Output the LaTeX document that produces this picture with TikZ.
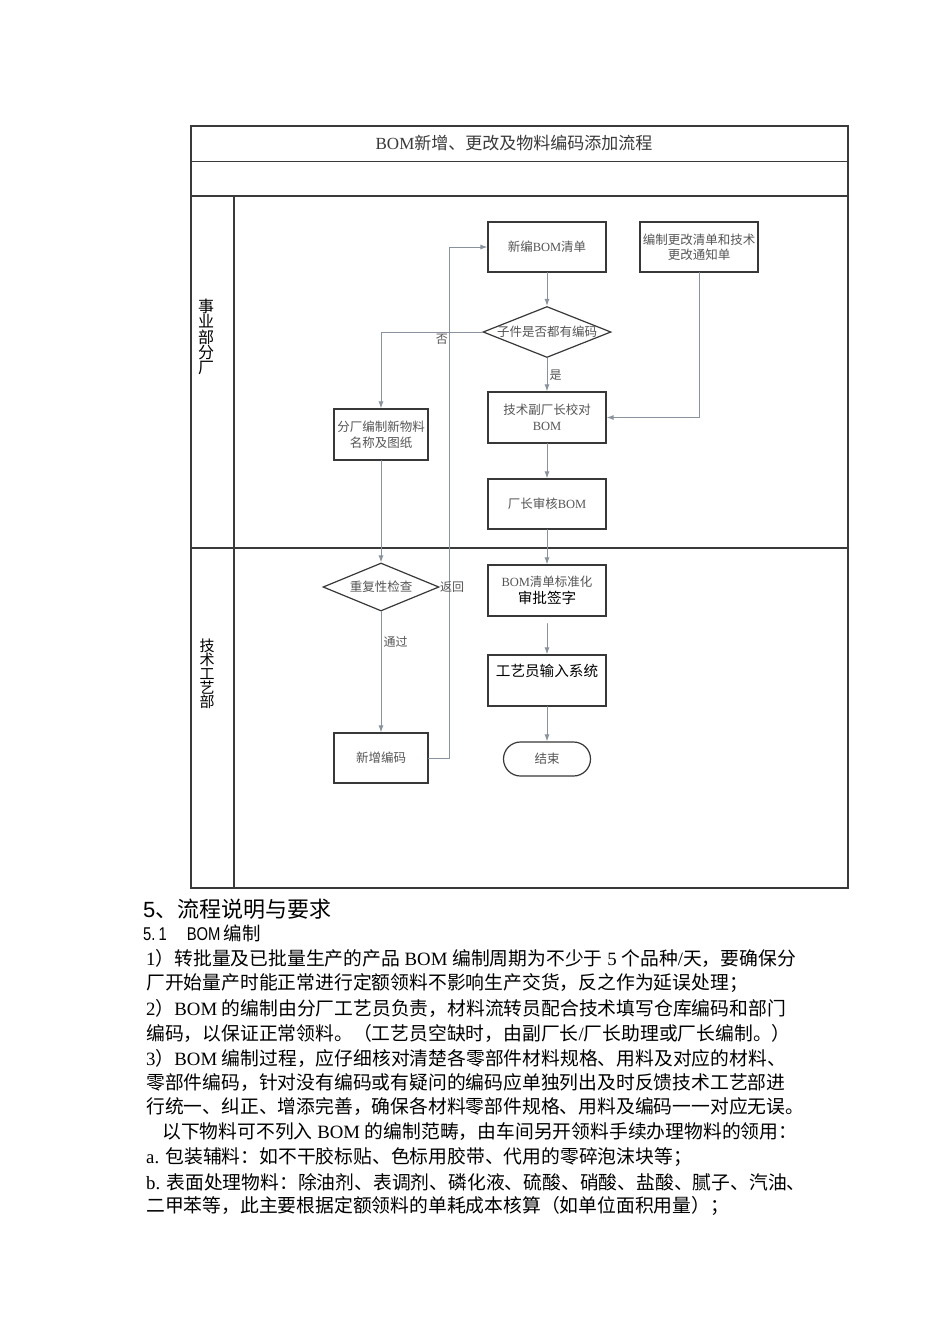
\documentclass[tikz,border=0pt]{standalone}
\usepackage{fontspec}
\setmainfont{Liberation Serif}
\newfontfamily\cjk{Noto Sans CJK SC}
\newfontfamily\headsans{Liberation Sans}
\newfontfamily\narrowsans{Liberation Sans}[FakeStretch=0.8]
\usetikzlibrary{shapes.geometric,arrows.meta}
\newcommand{\zh}[1]{{\cjk #1}}

\begin{document}
\begin{tikzpicture}
		[x=1pt,y=-1pt,line cap=round,
		%Styles
		frame line/.style={draw=framegray,line width=1.3pt},
		lane line/.style={draw=framegray,line width=2pt},
		process/.style={rectangle,draw=boxgray,line width=1.2pt,minimum width=118pt,minimum height=50pt,inner sep=0pt,text=textgray,font=\fontsize{12.5}{15.5}\selectfont,align=center},
		small process/.style={process,minimum width=94pt},
		decision/.style={diamond,draw=boxgray,line width=1.2pt,aspect=2,inner xsep=-30pt,inner ysep=0pt,text=textgray,font=\fontsize{12.5}{15}\selectfont},
		terminal/.style={rectangle,rounded corners=17pt,draw=boxgray,line width=1.2pt,minimum width=87pt,minimum height=34pt,inner sep=0pt,text=textgray,font=\fontsize{12.5}{15}\selectfont},
		flow/.style={draw=linegray,line width=1pt,-{Latex[length=7pt,width=5pt]}},
		flow text/.style={text=textgray,font=\fontsize{12}{14}\selectfont,inner sep=2pt},
		lane text/.style={align=center,font=\cjk\fontsize{16}{15.3}\selectfont},
		body/.style={anchor=west,inner sep=0pt,font=\fontsize{18.8}{20}\selectfont}
		]
		
		%Colors
		\definecolor{framegray}{HTML}{3A3A3A}
		\definecolor{boxgray}{HTML}{383838}
		\definecolor{linegray}{HTML}{8A929D}
		\definecolor{textgray}{HTML}{555555}
		
		\fill[white] (0,0) rectangle (950,1344);
		\useasboundingbox (0,0) rectangle (950,1344);
		
		%The frame
		\draw[frame line] (191,126) rectangle (848,888);
		\draw[frame line] (191,161.5) -- (848,161.5);
		\draw[lane line] (191,196) -- (848,196);
		\draw[lane line] (191,548) -- (848,548);
		\draw[frame line] (234,196) -- (234,888);
		
		\node[text=framegray,font=\fontsize{17}{20}\selectfont] (title) at (514,143) {BOM\zh{新增、更改及物料编码添加流程}};
		\node[lane text] (lanefactory) at (206,337) {事\\业\\部\\分\\厂};
		\node[lane text,font=\cjk\fontsize{15}{14}\selectfont] (lanetech) at (207,674) {技\\术\\工\\艺\\部};
		
		%The graphic
		\node[process] (newbom) at (547,247) {\zh{新编}BOM\zh{清单}};
		\node[process] (changelist) at (699,247) {\zh{编制更改清单和技术}\\\zh{更改通知单}};
		\node[decision,minimum width=128pt,minimum height=51pt] (hascode) at (547,332) {\zh{子件是否都有编码}};
		\node[small process,minimum height=51pt] (newname) at (381,434.5) {\zh{分厂编制新物料}\\\zh{名称及图纸}};
		\node[process,minimum height=51pt] (check) at (547,417.5) {\zh{技术副厂长校对}\\BOM};
		\node[process] (approve) at (547,504) {\zh{厂长审核}BOM};
		\node[decision,minimum width=116pt,minimum height=48pt] (dupcheck) at (381,587) {\zh{重复性检查}};
		\node[small process] (newcode) at (381,758) {\zh{新增编码}};
		\node[process,minimum height=51pt] (standard) at (547,590.5) {BOM\zh{清单标准化}\\[1pt]{\color{black}\fontsize{14.6}{16}\selectfont\zh{审批签字}}};
		\node[process,minimum height=51pt,text=black,font=\fontsize{14.6}{16}\selectfont,text depth=20pt] (input) at (547,680.5) {\zh{工艺员输入系统}};
		\node[terminal] (finish) at (547,759) {\zh{结束}};
		
		\draw[flow] (newbom) -- (hascode);
		\draw[flow] (hascode.west) -| node[flow text,below,pos=0.2] {\zh{否}} (newname.north);
		\draw[flow] (hascode) -- node[flow text,right] {\zh{是}} (check);
		\draw[flow] (changelist.south) |- (check.east);
		\draw[flow] (check) -- (approve);
		\draw[flow] (approve) -- (standard);
		\draw[flow] (newname) -- (dupcheck);
		\draw[flow] (dupcheck) -- node[flow text,right,pos=0.25] {\zh{通过}} (newcode);
		\draw[flow] (newcode.east) -- ++(21,0) |- (newbom.west);
		\draw[flow,shorten <=7pt] (standard) -- (input);
		\draw[flow] (input) -- (finish);
		\node[flow text,anchor=west,inner sep=0pt] (backlabel) at (440,587) {\zh{返回}};
		
		%The text below
		\node[anchor=west,inner sep=0pt,font=\cjk\fontsize{22}{24}\selectfont] (head) at (143,909) {{\headsans 5}、流程说明与要求};
		\node[anchor=west,inner sep=0pt,font=\fontsize{18.5}{20}\selectfont] (subhead) at (143,933) {{\narrowsans 5.\,1\hspace{20pt}BOM}\,\zh{编制}};
		\node[body] (line1) at (146,958) {1\zh{）转批量及已批量生产的产品} BOM \zh{编制周期为不少于} 5 \zh{个品种}/\zh{天，要确保分}};
		\node[body] (line2) at (146,983) {\zh{厂开始量产时能正常进行定额领料不影响生产交货，反之作为延误处理；}};
		\node[body] (line3) at (146,1008) {2\zh{）}BOM \zh{的编制由分厂工艺员负责，材料流转员配合技术填写仓库编码和部门}};
		\node[body] (line4) at (146,1033) {\zh{编码，以保证正常领料。（工艺员空缺时，由副厂长}/\zh{厂长助理或厂长编制。）}};
		\node[body] (line5) at (146,1058) {3\zh{）}BOM \zh{编制过程，应仔细核对清楚各零部件材料规格、用料及对应的材料、}};
		\node[body] (line6) at (146,1083) {\zh{零部件编码，针对没有编码或有疑问的编码应单独列出及时反馈技术工艺部进}};
		\node[body] (line7) at (146,1107) {\zh{行统一、纠正、增添完善，确保各材料零部件规格、用料及编码一一对应无误。}};
		\node[body] (line8) at (162,1132) {\zh{以下物料可不列入} BOM \zh{的编制范畴，由车间另开领料手续办理物料的领用：}};
		\node[body] (line9) at (146,1157) {a. \zh{包装辅料：如不干胶标贴、色标用胶带、代用的零碎泡沫块等；}};
		\node[body] (line10) at (146,1182) {b. \zh{表面处理物料：除油剂、表调剂、磷化液、硫酸、硝酸、盐酸、腻子、汽油、}};
		\node[body] (line11) at (146,1206) {\zh{二甲苯等，此主要根据定额领料的单耗成本核算（如单位面积用量）；}};
	\end{tikzpicture}
\end{document}
